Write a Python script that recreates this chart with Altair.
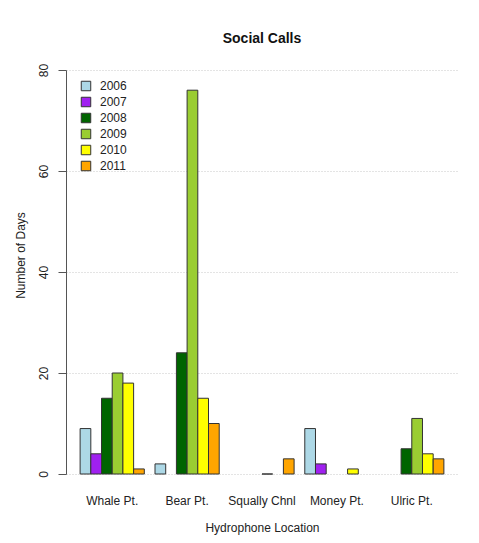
import altair as alt
import pandas as pd

locations = ["Whale Pt.", "Bear Pt.", "Squally Chnl", "Money Pt.", "Ulric Pt."]
years = ["2006", "2007", "2008", "2009", "2010", "2011"]
colors = ["#ADD8E6", "#A020F0", "#006400", "#9ACD32", "#FFFF00", "#FFA500"]

# values per year across locations (None = no bar)
v2006 = [9, 2, None, 9, None]
v2007 = [4, None, None, 2, None]
v2008 = [15, 24, None, None, 5]
v2009 = [20, 76, 0, None, 11]
v2010 = [18, 15, None, 1, 4]
v2011 = [1, 10, 3, None, 3]

series = [v2006, v2007, v2008, v2009, v2010, v2011]
rows = []
for y, vals in zip(years, series):
    for loc, v in zip(locations, vals):
        if v is not None:
            rows.append({"Location": loc, "Year": y, "Days": v})
df = pd.DataFrame(rows)

FONT = "Liberation Sans"

bars = alt.Chart(df).mark_bar(stroke="#333333", strokeWidth=1).encode(
    x=alt.X("Location:N", sort=locations,
            scale=alt.Scale(paddingInner=1/7, paddingOuter=0.1885),
            axis=alt.Axis(title="Hydrophone Location", labelAngle=0, domain=False,
                          ticks=False, labelPadding=21, titlePadding=16,
                          labelFontSize=12, titleFontSize=12, titleFontWeight="normal",
                          labelColor="#222222", titleColor="#222222",
                          labelFont=FONT, titleFont=FONT, grid=False)),
    xOffset=alt.XOffset("Year:N", sort=years,
                        scale=alt.Scale(paddingInner=0, paddingOuter=0)),
    y=alt.Y("Days:Q", scale=alt.Scale(domain=[0, 80], nice=False),
            axis=alt.Axis(title="Number of Days", values=[0, 20, 40, 60, 80],
                          tickSize=8, tickColor="#555555", domainColor="#555555",
                          labelAngle=270, labelAlign="center", labelBaseline="bottom",
                          labelPadding=8, labelFontSize=12, labelColor="#222222",
                          titleFontSize=12, titleFontWeight="normal", titleColor="#222222",
                          titleX=-46, titleY=185, titleAngle=270, titleAlign="center",
                          titleBaseline="middle", labelFont=FONT, titleFont=FONT,
                          grid=True, gridColor="#C8C8C8", gridDash=[1, 2])),
    y2=alt.datum(0),
    color=alt.Color("Year:N", sort=years,
                    scale=alt.Scale(domain=years, range=colors),
                    legend=alt.Legend(title=None, orient="none", legendX=14, legendY=10,
                                      symbolType="square", symbolSize=90,
                                      symbolStrokeColor="#333333", symbolStrokeWidth=1,
                                      symbolOpacity=1,
                                      labelFontSize=12, labelFont=FONT, labelColor="#222222",
                                      labelOffset=8, rowPadding=2)),
)

chart = bars.properties(
    width=392, height=404,
    background="white",
    title=alt.Title("Social Calls", fontSize=14, font=FONT, fontWeight="bold",
                    color="#111111", anchor="middle", offset=17),
    autosize=alt.AutoSizeParams(type="none"),
    padding={"left": 58, "top": 62, "right": 13, "bottom": 61},
).configure_view(stroke=None)

chart.save("out.html", embed_options={"renderer": "svg", "actions": False})
